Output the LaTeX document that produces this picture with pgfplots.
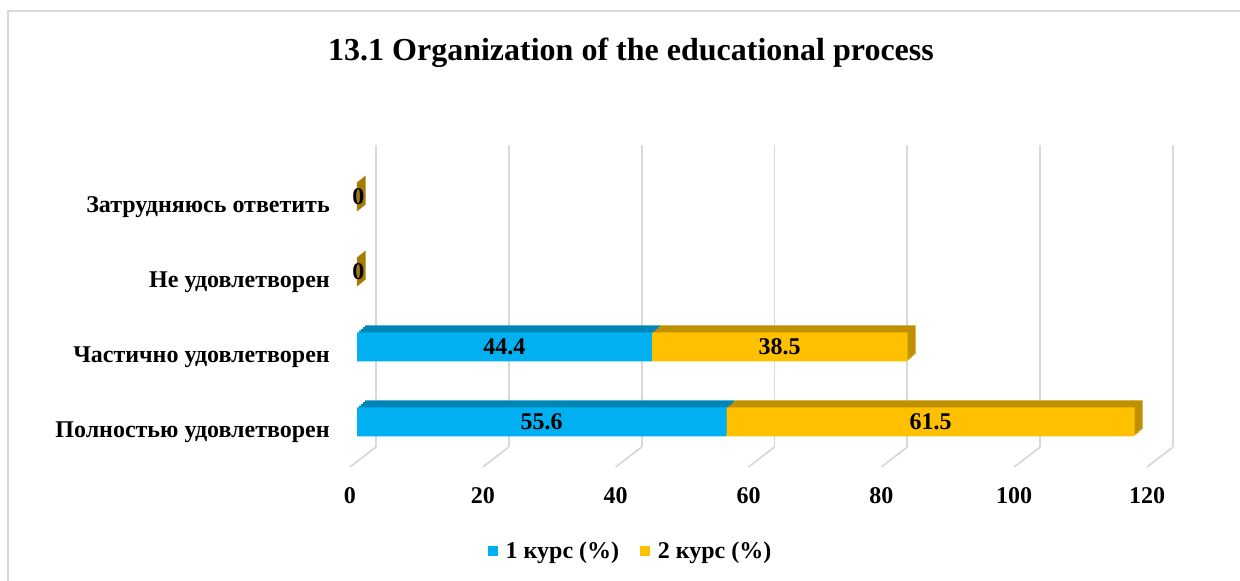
\documentclass[border=0pt]{standalone}
\usepackage{pgfplots}
\pgfplotsset{compat=1.18}
\usepackage{fontspec}
\setmainfont{Liberation Serif}
\definecolor{cblue}{HTML}{00B0F0}
\definecolor{cbluedk}{HTML}{0086B6}
\definecolor{cyel}{HTML}{FFC000}
\definecolor{cyeldk}{HTML}{BF9000}
\definecolor{cyelside}{HTML}{A67C00}
\definecolor{gridc}{HTML}{D9D9D9}
\pgfplotsset{
  common/.style={scale only axis, width=597.75pt, height=236.25pt,
    xmin=0, xmax=120, ymin=-0.6, ymax=3.6, anchor=south west, clip=false},
}
\newcommand{\backcopy}[2]{%
\begin{axis}[common, at={({267.75pt+#1},{85.5pt+#2})}, hide axis,
  xbar stacked, bar width=21.75pt]
\addplot[fill=cbluedk, draw=none] coordinates {(55.6,0) (44.4,1) (0,2) (0,3)};
\addplot[fill=cyeldk, draw=none] coordinates {(61.5,0) (38.5,1) (0,2) (0,3)};
\end{axis}}
\begin{document}
\begin{tikzpicture}
\useasboundingbox (0,0) rectangle (930pt,435.75pt);
\fill[white] (0,0) rectangle (930pt,435.75pt);
\draw[gridc, line width=1pt] (6pt,-5pt) -- (6pt,427.5pt) -- (940pt,427.5pt);
\node[font=\bfseries\fontsize{24}{28}\selectfont] at (473.25pt,396pt) {13.1 Organization of the educational process};

% base axis: grid, floor, tick labels, zero-bar side faces
\begin{axis}[common, at={(267.75pt,85.5pt)},
  axis line style={draw=none}, tick style={draw=none}, major tick length=0pt,
  xtick={0,20,40,60,80,100,120}, xticklabels={0,20,40,60,80,100,120},
  ytick={0,1,2,3},
  yticklabels={Полностью удовлетворен,Частично удовлетворен,Не удовлетворен,Затрудняюсь ответить},
  xticklabel style={font=\bfseries\fontsize{18}{20}\selectfont, anchor=center, xshift=-5.25pt, yshift=-21.75pt},
  yticklabel style={font=\bfseries\fontsize{18}{20}\selectfont, inner sep=0pt, anchor=east, xshift=-20.25pt, yshift=-7.5pt},
]
\pgfplotsinvokeforeach{0,20,40,60,80,100,120}{
  \draw[gridc, line width=1.3pt] ([xshift=14.25pt,yshift=15pt]axis cs:#1,-0.6) -- ([xshift=14.25pt,yshift=241.5pt]axis cs:#1,-0.6);
  \draw[gridc, line width=1.3pt] ([xshift=-5.25pt]axis cs:#1,-0.6) -- ([xshift=14.25pt,yshift=15pt]axis cs:#1,-0.6);
}
\addplot[fill=cyelside, draw=none] coordinates {(0,1.807) (0,2.193) (1.3,2.286) (1.3,1.9)} -- cycle;
\addplot[fill=cyelside, draw=none] coordinates {(0,2.807) (0,3.193) (1.3,3.286) (1.3,2.9)} -- cycle;
\end{axis}

% back copies (3D depth)
\backcopy{6pt}{5.25pt}
\backcopy{4.5pt}{3.9375pt}
\backcopy{3pt}{2.625pt}
\backcopy{1.5pt}{1.3125pt}

% front bars
\begin{axis}[common, at={(267.75pt,85.5pt)}, hide axis,
  xbar stacked, bar width=21.75pt,
  legend style={at={(0.344,-0.267)}, anchor=center, draw=none, fill=none,
    legend columns=2, font=\bfseries\fontsize{18}{20}\selectfont,
    /tikz/every even column/.append style={column sep=14pt}},
  legend image code/.code={\fill[#1] (0pt,-3.5pt) rectangle (7pt,3.5pt); \path (11pt,0pt);},
]
\addplot[fill=cblue, draw=none] coordinates {(55.6,0) (44.4,1) (0,2) (0,3)};
\addplot[fill=cyel, draw=none] coordinates {(61.5,0) (38.5,1) (0,2) (0,3)};
\legend{1 курс (\%), 2 курс (\%)}
\end{axis}

% value labels
\begin{axis}[common, at={(267.75pt,85.5pt)}, hide axis]
\addplot[draw=none, mark=none, nodes near coords, point meta=explicit symbolic,
  every node near coord/.style={anchor=center, font=\bfseries\fontsize{18}{20}\selectfont, text=black}]
  coordinates {(27.8,0) [55.6] (86.35,0) [61.5] (22.2,1) [44.4] (63.65,1) [38.5] (0.2,2) [0] (0.2,3) [0]};
\end{axis}
\end{tikzpicture}
\end{document}
